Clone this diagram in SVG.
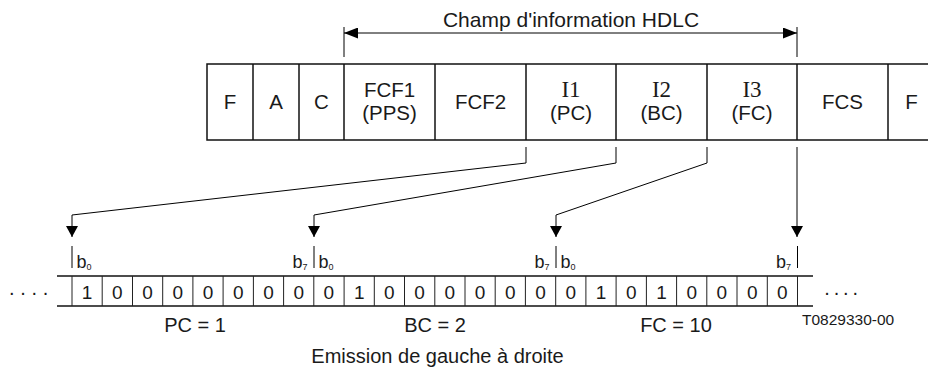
<svg xmlns="http://www.w3.org/2000/svg" width="928" height="369" viewBox="0 0 928 369">
<defs>
<marker id="ahH" markerUnits="userSpaceOnUse" markerWidth="14" markerHeight="11" refX="14" refY="5.5" orient="auto-start-reverse"><path d="M0,0 L14,5.5 L0,11 z" fill="#000"/></marker>
<marker id="ahV" markerUnits="userSpaceOnUse" markerWidth="11" markerHeight="12" refX="11" refY="6" orient="auto"><path d="M0,0 L11,6 L0,12 z" fill="#000"/></marker>
</defs>
<style>
text{font-family:"Liberation Sans",Arial,Helvetica,sans-serif;fill:#1a1a1a}
.cell{font-size:20.5px;text-anchor:middle}
.serif{font-family:"Liberation Serif","Times New Roman",serif;font-size:23px}
.frame{fill:none;stroke:#111;stroke-width:1.5}
.div{stroke:#111;stroke-width:1.5}
.bdiv{stroke:#222;stroke-width:1}
.conn{fill:none;stroke:#000;stroke-width:1}
.tick{stroke:#000;stroke-width:1}
.bit{font-size:19px;text-anchor:middle}
.bl{font-size:18px}
.sub{font-size:9px}
.lbl{font-size:20px;text-anchor:middle}
.dots{font-size:20px}
</style>
<rect width="928" height="369" fill="#fff"/>

<g id="title">
<text x="571" y="26.5" style="font-size:21px;text-anchor:middle">Champ d'information HDLC</text>
<line class="tick" x1="344" y1="27" x2="344" y2="57"/>
<line class="tick" x1="797" y1="27" x2="797" y2="57"/>
<path class="conn" d="M344,33 H797" marker-start="url(#ahH)" marker-end="url(#ahH)"/>
</g>

<g id="frame">
<path class="frame" d="M934,64 H207 V140 H934"/>
<g id="cell-F1"><line class="div" x1="253" y1="64" x2="253" y2="140"/><text class="cell" x="230" y="109">F</text></g>
<g id="cell-A"><line class="div" x1="299" y1="64" x2="299" y2="140"/><text class="cell" x="276" y="109">A</text></g>
<g id="cell-C"><line class="div" x1="344" y1="64" x2="344" y2="140"/><text class="cell" x="321.5" y="109">C</text></g>
<g id="cell-FCF1"><line class="div" x1="435" y1="64" x2="435" y2="140"/><text class="cell" x="389.5" y="97">FCF1</text><text class="cell" x="389.5" y="120">(PPS)</text></g>
<g id="cell-FCF2"><line class="div" x1="526" y1="64" x2="526" y2="140"/><text class="cell" x="480.5" y="109">FCF2</text></g>
<g id="cell-I1"><line class="div" x1="616" y1="64" x2="616" y2="140"/><text class="cell serif" x="571" y="97">I1</text><text class="cell" x="571" y="120">(PC)</text></g>
<g id="cell-I2"><line class="div" x1="707" y1="64" x2="707" y2="140"/><text class="cell serif" x="661.5" y="97">I2</text><text class="cell" x="661.5" y="120">(BC)</text></g>
<g id="cell-I3"><line class="div" x1="797" y1="64" x2="797" y2="140"/><text class="cell serif" x="752" y="97">I3</text><text class="cell" x="752" y="120">(FC)</text></g>
<g id="cell-FCS"><line class="div" x1="888" y1="64" x2="888" y2="140"/><text class="cell" x="842.5" y="109">FCS</text></g>
<g id="cell-F2"><text class="cell" x="911.5" y="109">F</text></g>
</g>

<g id="connectors">
<path class="conn" d="M526,147 V163 L72,215 V237" marker-end="url(#ahV)"/>
<path class="conn" d="M616,147 V163 L314,215 V237" marker-end="url(#ahV)"/>
<path class="conn" d="M707,147 V163 L556,215 V237" marker-end="url(#ahV)"/>
<path class="conn" d="M797,147 V237" marker-end="url(#ahV)"/>
</g>

<g id="bit-markers">
<line class="tick" x1="72" y1="246" x2="72" y2="268"/>
<text class="bl" x="76.5" y="268">b<tspan class="sub" dy="1.5">0</tspan></text>
<line class="tick" x1="314" y1="246" x2="314" y2="268"/>
<text class="bl" x="307.5" y="268" text-anchor="end">b<tspan class="sub" dy="1.5">7</tspan></text>
<text class="bl" x="318.5" y="268">b<tspan class="sub" dy="1.5">0</tspan></text>
<line class="tick" x1="556" y1="246" x2="556" y2="268"/>
<text class="bl" x="549.5" y="268" text-anchor="end">b<tspan class="sub" dy="1.5">7</tspan></text>
<text class="bl" x="560.5" y="268">b<tspan class="sub" dy="1.5">0</tspan></text>
<line class="tick" x1="797.5" y1="246" x2="797.5" y2="268"/>
<text class="bl" x="791" y="268" text-anchor="end">b<tspan class="sub" dy="1.5">7</tspan></text>
</g>

<g id="bit-row">
<line class="div" x1="57" y1="276" x2="813" y2="276"/>
<line class="div" x1="57" y1="306" x2="813" y2="306"/>
<g class="bdiv">
<line x1="72" y1="276" x2="72" y2="306"/>
<line x1="102.2" y1="276" x2="102.2" y2="306"/>
<line x1="132.5" y1="276" x2="132.5" y2="306"/>
<line x1="162.7" y1="276" x2="162.7" y2="306"/>
<line x1="192.9" y1="276" x2="192.9" y2="306"/>
<line x1="223.1" y1="276" x2="223.1" y2="306"/>
<line x1="253.4" y1="276" x2="253.4" y2="306"/>
<line x1="283.6" y1="276" x2="283.6" y2="306"/>
<line x1="313.8" y1="276" x2="313.8" y2="306"/>
<line x1="344.1" y1="276" x2="344.1" y2="306"/>
<line x1="374.3" y1="276" x2="374.3" y2="306"/>
<line x1="404.5" y1="276" x2="404.5" y2="306"/>
<line x1="434.8" y1="276" x2="434.8" y2="306"/>
<line x1="465" y1="276" x2="465" y2="306"/>
<line x1="495.2" y1="276" x2="495.2" y2="306"/>
<line x1="525.4" y1="276" x2="525.4" y2="306"/>
<line x1="555.7" y1="276" x2="555.7" y2="306"/>
<line x1="585.9" y1="276" x2="585.9" y2="306"/>
<line x1="616.1" y1="276" x2="616.1" y2="306"/>
<line x1="646.4" y1="276" x2="646.4" y2="306"/>
<line x1="676.6" y1="276" x2="676.6" y2="306"/>
<line x1="706.8" y1="276" x2="706.8" y2="306"/>
<line x1="737" y1="276" x2="737" y2="306"/>
<line x1="767.3" y1="276" x2="767.3" y2="306"/>
<line x1="797.5" y1="276" x2="797.5" y2="306"/>
</g>
<text class="bit" x="87.1" y="299">1</text>
<text class="bit" x="117.3" y="299">0</text>
<text class="bit" x="147.6" y="299">0</text>
<text class="bit" x="177.8" y="299">0</text>
<text class="bit" x="208" y="299">0</text>
<text class="bit" x="238.3" y="299">0</text>
<text class="bit" x="268.5" y="299">0</text>
<text class="bit" x="298.7" y="299">0</text>
<text class="bit" x="328.9" y="299">0</text>
<text class="bit" x="359.2" y="299">1</text>
<text class="bit" x="389.4" y="299">0</text>
<text class="bit" x="419.6" y="299">0</text>
<text class="bit" x="449.9" y="299">0</text>
<text class="bit" x="480.1" y="299">0</text>
<text class="bit" x="510.3" y="299">0</text>
<text class="bit" x="540.6" y="299">0</text>
<text class="bit" x="570.8" y="299">0</text>
<text class="bit" x="601" y="299">1</text>
<text class="bit" x="631.3" y="299">0</text>
<text class="bit" x="661.5" y="299">1</text>
<text class="bit" x="691.7" y="299">0</text>
<text class="bit" x="721.9" y="299">0</text>
<text class="bit" x="752.2" y="299">0</text>
<text class="bit" x="782.4" y="299">0</text>
<text class="dots" x="9" y="294.5" letter-spacing="5.7">....</text>
<text class="dots" x="824.2" y="294.5" letter-spacing="3.9">....</text>
</g>

<g id="labels">
<text class="lbl" x="195" y="331.5">PC = 1</text>
<text class="lbl" x="435" y="331.5">BC = 2</text>
<text class="lbl" x="676" y="331.5">FC = 10</text>
<text class="lbl" x="437.5" y="362.5">Emission de gauche à droite</text>
<text x="802" y="325" style="font-size:15.5px">T0829330-00</text>
</g>
</svg>
